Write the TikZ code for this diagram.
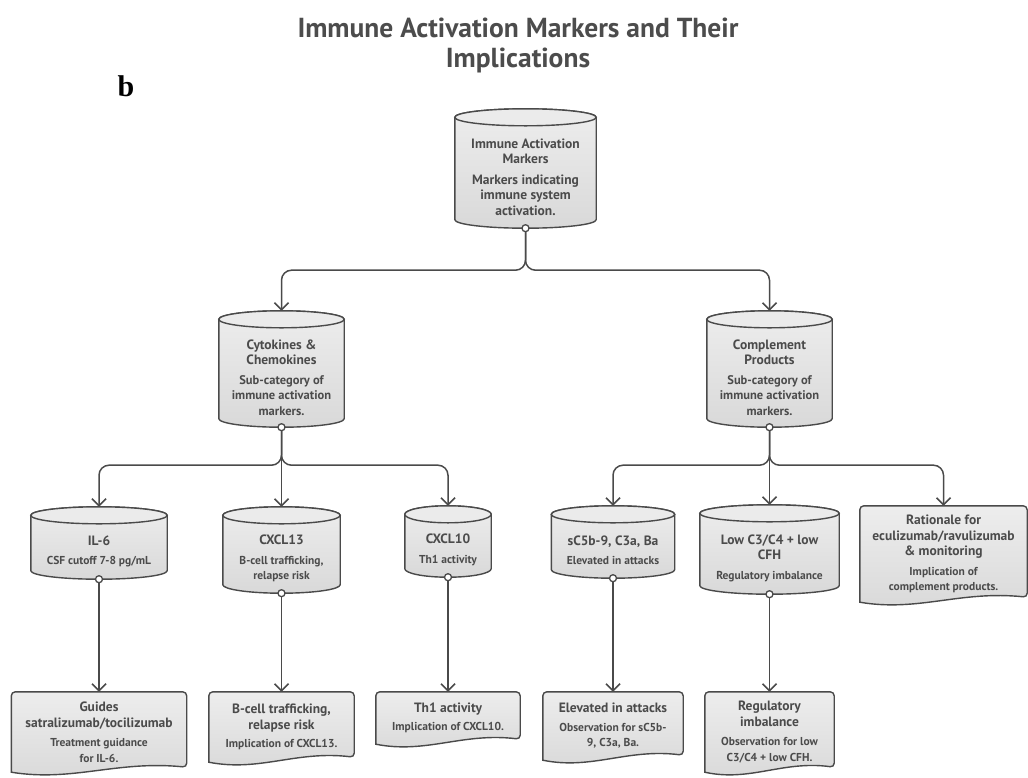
\documentclass[tikz,border=0pt]{standalone}
\usepackage{fontspec}
\setmainfont{PT Sans}
\newfontfamily\panelfont{Liberation Serif}
\usetikzlibrary{arrows.meta,calc,backgrounds}

\definecolor{inkgray}{HTML}{4A4A4A}
\definecolor{textgray}{HTML}{4B4B4B}
\newcommand{\notefont}{\fontsize{11.5}{13.5}\selectfont\bfseries}
\newcommand{\midfont}{\fontsize{12.5}{14.5}\selectfont\bfseries}

\begin{document}
\begin{tikzpicture}[
  x=1pt, y=1pt,
  >={Straight Barb[length=7pt,width=14pt]},
  marker/.style={
    rectangle,
    inner sep=1pt,
    align=center,
    text=textgray,
    font=\fontsize{13.5}{15.5}\selectfont\bfseries
  },
  cylbody/.style={draw=inkgray, line width=1.4pt, top color=black!7, bottom color=black!15},
  cyltop/.style={draw=inkgray, line width=1.4pt, fill=black!8},
  docbody/.style={draw=inkgray, line width=1.4pt, top color=black!7, bottom color=black!15},
  conn/.style={draw=inkgray, line width=1.5pt, rounded corners=10pt, ->},
  port/.style={draw=inkgray, line width=1.3pt, fill=white}
]
\useasboundingbox (0,0) rectangle (1028,-777);

\node[font=\fontsize{27.5}{30}\selectfont\bfseries, text=black!70, align=center] (title) at (518,-45)
  {Immune Activation Markers and Their\\Implications};
\node[font=\panelfont\fontsize{30}{30}\selectfont\bfseries] (panel) at (126,-86) {b};

% Markers (cylinders)
\node[marker, minimum width=141, minimum height=102] (top) at (525.5,-177)
  {Immune Activation\\Markers\\[5pt]Markers indicating\\immune system\\activation.};

\node[marker, minimum width=125, minimum height=99] (cyto) at (281.5,-377.5)
  {Cytokines \&\\Chemokines\\[4pt]\midfont Sub-category of\\\midfont immune activation\\\midfont markers.};
\node[marker, minimum width=125, minimum height=99] (comp) at (769.5,-377.5)
  {Complement\\Products\\[4pt]\midfont Sub-category of\\\midfont immune activation\\\midfont markers.};

\node[marker, minimum width=136, minimum height=55] (il6) at (99,-551.5)
  {IL-6\\[4pt]\notefont CSF cutoff 7-8 pg/mL};
\node[marker, minimum width=117, minimum height=69] (cx13) at (281.5,-558.5)
  {CXCL13\\[4pt]\notefont B-cell trafficking,\\\notefont relapse risk};
\node[marker, minimum width=86, minimum height=54] (cx10) at (448,-550)
  {CXCL10\\[4pt]\notefont Th1 activity};
\node[marker, minimum width=123, minimum height=55] (sc5) at (613,-550.5)
  {sC5b-9, C3a, Ba\\[4pt]\notefont Elevated in attacks};
\node[marker, minimum width=139, minimum height=72] (lowc) at (769.5,-558)
  {Low C3/C4 + low\\CFH\\[4pt]\notefont Regulatory imbalance};

% Implications (documents)
\node[marker, minimum width=167, minimum height=96] (rat) at (943.5,-554)
  {Rationale for\\eculizumab/ravulizumab\\\& monitoring\\[4pt]\notefont Implication of\\\notefont complement products.};
\node[marker, minimum width=175, minimum height=80] (guides) at (99,-732)
  {Guides\\satralizumab/tocilizumab\\[4pt]\notefont Treatment guidance\\\notefont for IL-6.};
\node[marker, minimum width=145, minimum height=70] (bcell) at (281.5,-727)
  {B-cell trafficking,\\relapse risk\\[3pt]\notefont Implication of CXCL13.};
\node[marker, minimum width=144, minimum height=52] (th1) at (448,-718)
  {Th1 activity\\[3pt]\notefont Implication of CXCL10.};
\node[marker, minimum width=140, minimum height=68] (elev) at (613,-726)
  {Elevated in attacks\\[3pt]\notefont Observation for sC5b-\\\notefont 9, C3a, Ba.};
\node[marker, minimum width=129, minimum height=80] (regu) at (769.5,-732)
  {Regulatory\\imbalance\\[4pt]\notefont Observation for low\\\notefont C3/C4 + low CFH.};

% Shapes behind the text
\begin{scope}[on background layer]
  \foreach \nm in {top,cyto,comp,il6,cx13,cx10,sc5,lowc}{
    \path[cylbody] let \p1=(\nm.north west), \p2=(\nm.south east), \n1={(\x2-\x1)/2} in
      (\x1,\y1+8.5pt) -- (\x1,\y2+8.5pt)
      arc[start angle=180,end angle=360,x radius=\n1,y radius=8.5pt]
      -- (\x2,\y1+8.5pt)
      arc[start angle=0,end angle=180,x radius=\n1,y radius=8.5pt] -- cycle;
    \path[cyltop] let \p1=(\nm.north west), \p2=(\nm.north east), \n1={(\x2-\x1)/2} in
      ($(\nm.north)+(0,8.5)$) ellipse[x radius=\n1,y radius=8.5pt];
  }
  \foreach \nm in {rat,guides,bcell,th1,elev,regu}{
    \path[docbody] let \p1=(\nm.north west), \p2=(\nm.south east), \n1={\x2-\x1} in
      (\x1,\y2) [rounded corners=4pt] -- (\x1,\y1) -- (\x2,\y1) -- (\x2,\y2+5pt) [sharp corners]
      .. controls (\x1+0.6*\n1,\y2+12pt) and (\x1+0.35*\n1,\y2-10pt) .. (\x1,\y2) -- cycle;
  }
\end{scope}

% Arrows
\draw[conn] (top.south) -- ++(0,-42) -| ([yshift=17pt]cyto.north);
\draw[conn] (top.south) -- ++(0,-42) -| ([yshift=17pt]comp.north);
\draw[conn] (cyto.south) -- ++(0,-38) -| ([yshift=17pt]il6.north);
\draw[conn] (cyto.south) -- ([yshift=17pt]cx13.north);
\draw[conn] (cyto.south) -- ++(0,-38) -| ([yshift=17pt]cx10.north);
\draw[conn] (comp.south) -- ++(0,-38) -| ([yshift=17pt]sc5.north);
\draw[conn] (comp.south) -- ([yshift=17pt]lowc.north);
\draw[conn] (comp.south) -- ++(0,-38) -| (rat.north);
\draw[conn] (il6.south) -- (guides.north);
\draw[conn] (cx13.south) -- (bcell.north);
\draw[conn] (cx10.south) -- (th1.north);
\draw[conn] (sc5.south) -- (elev.north);
\draw[conn] (lowc.south) -- (regu.north);

\foreach \nm in {top,cyto,comp,il6,cx13,cx10,sc5,lowc}
  \draw[port] (\nm.south) circle[radius=3.5];

\end{tikzpicture}
\end{document}
